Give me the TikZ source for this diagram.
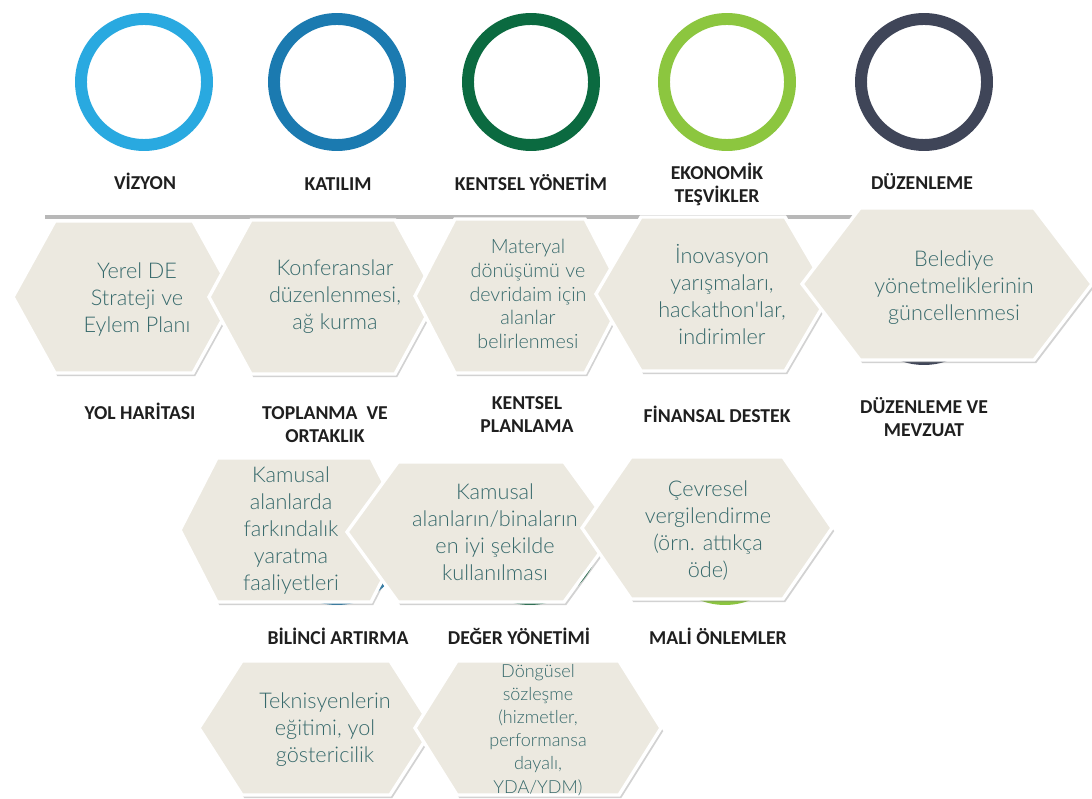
\documentclass[tikz,border=0pt]{standalone}
\usepackage{fontspec}
\usepackage{xcolor}
\usepackage{tikz}
\usetikzlibrary{shadows, calc}
\newfontfamily\labelfont{Carlito}
\newfontfamily\hexfont{Lato Light}
\definecolor{ringA}{HTML}{29A9E0}
\definecolor{ringB}{HTML}{1B7AB0}
\definecolor{ringC}{HTML}{0B6A40}
\definecolor{ringD}{HTML}{8CC63F}
\definecolor{ringE}{HTML}{3F4558}
\definecolor{hexfill}{HTML}{ECE9E0}
\definecolor{hextxt}{HTML}{36696B}
\tikzstyle{ring} = [line width=8.5pt]
\tikzstyle{hexa} = [draw=white, line width=2.4pt, fill=hexfill, drop shadow={shadow xshift=1.6pt, shadow yshift=-2.2pt, opacity=0.35}]
\tikzstyle{hextext} = [text=hextxt, align=center, inner sep=0pt, font=\hexfont\fontsize{15.4}{19.2}\selectfont]
\tikzstyle{smalltext} = [hextext, font=\hexfont\fontsize{14}{17}\selectfont]
\tikzstyle{tinytext} = [hextext, font=\hexfont\fontsize{12.8}{16.4}\selectfont]
\tikzstyle{caption2} = [text=black!88, align=center, inner sep=0pt, font=\labelfont\bfseries\fontsize{14}{16.4}\selectfont]
\tikzstyle{caption} = [caption2, text height=10pt]
% hexagon: centre x, centre y, half width, half height, slant
\newcommand{\hexpath}[5]{%
  \draw[hexa] ({#1-#3},#2) -- ({#1-#3+#5},{#2-#4}) -- ({#1+#3-#5},{#2-#4})
    -- ({#1+#3},#2) -- ({#1+#3-#5},{#2+#4}) -- ({#1-#3+#5},{#2+#4}) -- cycle;}

\begin{document}
\begin{tikzpicture}[x=0.025cm, y=-0.025cm]
\useasboundingbox[fill=white] (0,0) rectangle (1092,799);

% rings
\draw[ring, ringA] (144,82) circle [radius=63];
\draw[ring, ringB] (337,82) circle [radius=63];
\draw[ring, ringC] (531,82) circle [radius=63];
\draw[ring, ringD] (727,82) circle [radius=63];
\draw[ring, ringE] (924,82) circle [radius=63];

\node[caption] (vizyon) at (145,183) {VİZYON};
\node[caption] (katilim) at (338,183) {KATILIM};
\node[caption] (kentsel) at (531,184) {KENTSEL YÖNETİM};
\node[caption2] (ekonomik) at (717,184) {EKONOMİK\\TEŞVİKLER};
\node[caption] (duzen) at (922,183) {DÜZENLEME};

\draw[line width=3.5pt, black!28] (45,217) -- (1040,217);

% hidden rings peeking out
\draw[ring, ringE] (924,296) circle [radius=63];
\draw[ring, ringB] (337,536) circle [radius=63];
\draw[ring, ringC] (530,536) circle [radius=63];
\draw[ring, ringD] (725,536) circle [radius=63];

% first row
\hexpath{124}{297}{111}{76}{42}
\node[hextext] (yerel) at (137,300) {Yerel DE\\Strateji ve\\Eylem Planı};
\hexpath{323}{297}{114}{77}{42}
\node[hextext] (konf) at (335,297) {Konferanslar\\düzenlenmesi,\\ağ kurma};
\hexpath{520}{296}{105}{77}{40}
\node[smalltext] (materyal) at (528,294) {Materyal\\dönüşümü ve\\devridaim için\\alanlar\\belirlenmesi};
\hexpath{713}{294}{117}{77}{45}
\node[hextext] (inov) at (722,295) {İnovasyon\\yarışmaları,\\hackathon'lar,\\indirimler};
\hexpath{947}{284}{145}{76}{58}
\node[hextext] (beled) at (954,288) {Belediye\\yönetmeliklerinin\\güncellenmesi};

\node[caption] (yol) at (140,413) {YOL HARİTASI};
\node[caption2] (toplanma) at (325,425) {TOPLANMA\ \ VE\\ORTAKLIK};
\node[caption2] (planlama) at (527,415) {KENTSEL\\PLANLAMA};
\node[caption] (finans) at (717,416) {FİNANSAL DESTEK};
\node[caption2] (mevzuat) at (924,417) {DÜZENLEME VE\\MEVZUAT};

% second row
\hexpath{294}{530}{114}{72}{37}
\node[hextext] (farkin) at (291,531) {Kamusal\\alanlarda\\farkındalık\\yaratma\\faaliyetleri};
\hexpath{481}{532}{134}{70}{51}
\node[hextext] (kamusal) at (495,532) {Kamusal\\alanların/binaların\\en iyi şekilde\\kullanılması};
\hexpath{707}{528}{125}{71}{49}
\node[hextext] (cevre) at (708,531) {Çevresel\\vergilendirme\\(örn. attıkça\\öde)};

\node[caption] (bilinc) at (338,638) {BİLİNCİ ARTIRMA};
\node[caption] (deger) at (519,638) {DEĞER YÖNETİMİ};
\node[caption] (mali) at (718,638) {MALİ ÖNLEMLER};

% third row
\hexpath{316}{728}{117}{67}{43}
\node[hextext] (teknik) at (325,730) {Teknisyenlerin\\eğitimi, yol\\göstericilik};
\hexpath{538}{728}{123}{67}{42}
\node[tinytext] (dongu) at (538,730) {Döngüsel\\sözleşme\\(hizmetler,\\performansa\\dayalı,\\YDA/YDM)};

\end{tikzpicture}
\end{document}
